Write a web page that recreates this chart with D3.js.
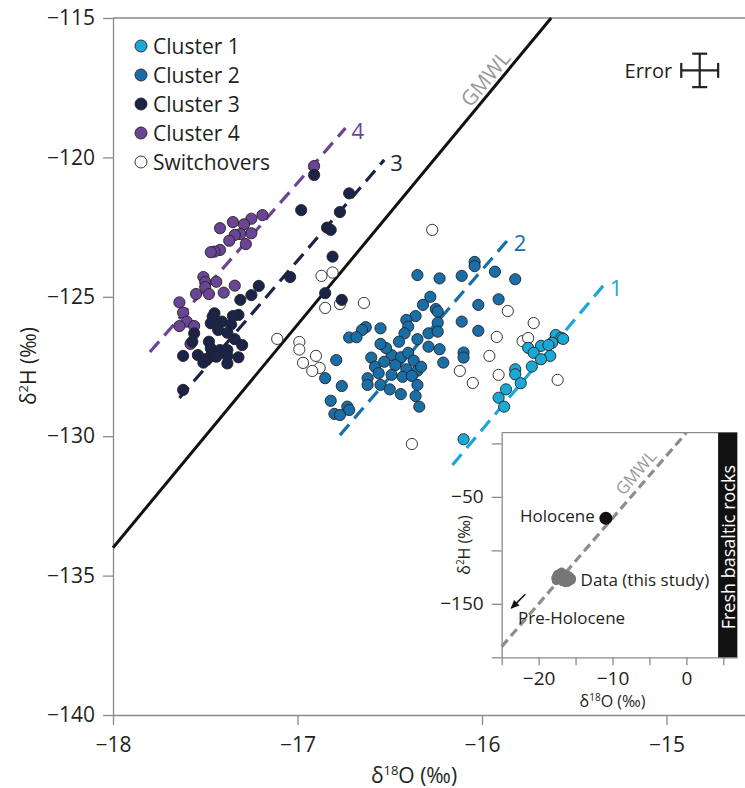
<!DOCTYPE html>
<html><head><meta charset="utf-8">
<script src="https://cdn.jsdelivr.net/npm/d3@7"></script>
<style>
body{margin:0;background:#fff}
text{font-family:"Open Sans","Noto Sans",sans-serif}
</style>
</head><body>
<svg id="chart" width="745" height="788"></svg>
<script>
// ---------- data (δ18O, δ2H) ----------
const cluster1 = [[-15.60,-126.37],[-15.57,-126.47],[-15.56,-126.51],[-15.62,-126.65],[-15.68,-126.76],[-15.64,-126.73],[-15.75,-126.83],[-15.72,-127.01],[-15.63,-127.12],[-15.68,-127.24],[-15.73,-127.50],[-15.82,-127.60],[-15.82,-127.78],[-15.79,-128.10],[-15.87,-128.32],[-15.91,-128.62],[-15.88,-128.94],[-16.10,-130.11]];
const cluster2 = [[-16.04,-123.75],[-16.04,-123.90],[-16.35,-124.22],[-16.23,-124.34],[-16.11,-124.25],[-15.93,-124.10],[-15.82,-124.37],[-16.28,-125.00],[-16.32,-125.29],[-16.25,-125.44],[-16.24,-125.53],[-16.02,-125.29],[-15.91,-125.09],[-16.36,-125.69],[-16.41,-125.83],[-16.40,-126.07],[-16.24,-125.93],[-16.11,-125.89],[-16.02,-126.22],[-16.63,-126.09],[-16.55,-126.13],[-16.65,-126.19],[-16.29,-126.31],[-16.24,-126.25],[-16.72,-126.46],[-16.68,-126.45],[-16.42,-126.31],[-16.45,-126.61],[-16.35,-126.52],[-16.29,-126.79],[-16.23,-126.88],[-16.10,-127.00],[-16.10,-127.18],[-16.21,-127.36],[-16.60,-127.18],[-16.49,-127.09],[-16.44,-127.17],[-16.40,-127.01],[-16.58,-127.51],[-16.53,-127.33],[-16.47,-127.45],[-16.37,-127.29],[-16.41,-127.60],[-16.35,-127.65],[-16.33,-127.51],[-16.79,-127.27],[-16.56,-127.74],[-16.49,-127.80],[-16.62,-127.92],[-16.43,-127.87],[-16.38,-127.84],[-16.55,-128.16],[-16.85,-127.92],[-16.62,-128.16],[-16.76,-128.20],[-16.50,-128.32],[-16.44,-128.49],[-16.35,-128.16],[-16.36,-128.56],[-16.82,-128.73],[-16.73,-128.94],[-16.72,-129.06],[-16.80,-129.20],[-16.77,-129.24],[-16.34,-128.94],[-16.52,-126.84],[-16.55,-126.69]];
const cluster3 = [[-16.91,-120.63],[-16.72,-121.29],[-16.98,-121.89],[-16.77,-121.96],[-16.84,-122.52],[-16.82,-122.60],[-16.81,-123.56],[-17.04,-124.29],[-17.21,-124.61],[-17.25,-124.94],[-17.31,-125.11],[-16.85,-124.87],[-16.76,-125.11],[-17.45,-125.59],[-17.46,-125.71],[-17.41,-125.89],[-17.36,-125.99],[-17.32,-125.65],[-17.35,-125.69],[-17.47,-125.95],[-17.43,-126.19],[-17.38,-126.29],[-17.56,-126.31],[-17.57,-126.61],[-17.48,-126.61],[-17.34,-126.52],[-17.30,-126.73],[-17.47,-126.85],[-17.38,-126.91],[-17.42,-126.91],[-17.47,-127.12],[-17.50,-127.24],[-17.62,-127.12],[-17.54,-127.09],[-17.44,-127.15],[-17.38,-127.12],[-17.32,-127.17],[-17.51,-127.36],[-17.38,-127.39],[-17.62,-128.34]];
const cluster4 = [[-16.91,-120.31],[-17.19,-122.07],[-17.25,-122.20],[-17.29,-122.40],[-17.35,-122.32],[-17.42,-122.54],[-17.25,-122.72],[-17.31,-122.75],[-17.34,-122.78],[-17.37,-122.99],[-17.28,-123.11],[-17.42,-123.32],[-17.45,-123.38],[-17.47,-123.40],[-17.51,-124.29],[-17.50,-124.47],[-17.50,-124.65],[-17.44,-124.46],[-17.34,-124.60],[-17.40,-124.85],[-17.48,-124.90],[-17.55,-124.90],[-17.64,-125.20],[-17.62,-125.57],[-17.60,-125.89],[-17.64,-126.05],[-17.56,-126.05],[-17.58,-126.69]];
const switchovers = [[-16.27,-122.60],[-16.87,-124.25],[-16.81,-124.13],[-16.85,-125.40],[-16.77,-125.26],[-16.64,-125.22],[-17.11,-126.51],[-16.99,-126.62],[-16.99,-126.89],[-16.90,-127.12],[-16.97,-127.37],[-16.88,-127.55],[-16.92,-127.66],[-15.86,-125.51],[-15.72,-125.94],[-15.92,-126.44],[-15.78,-126.59],[-15.75,-126.48],[-15.96,-127.12],[-16.12,-127.66],[-16.05,-128.09],[-15.91,-127.80],[-15.59,-127.98],[-16.38,-130.28]];

const legendLabels = ["Cluster 1","Cluster 2","Cluster 3","Cluster 4","Switchovers"];
const clusterColors = ["#1aa8d6","#1a6ea8","#1b2448","#6a4495","#ffffff"];

// trend lines: [x0,x1], [y0,y1]
const trendIds = ["1","2","3","4"];
const trendX = [[-16.16,-15.34],[-16.77,-15.86],[-17.64,-16.53],[-17.80,-16.74]];
const trendY = [[-131.03,-124.58],[-129.96,-122.96],[-128.63,-120.09],[-126.98,-118.95]];

const gmwlX = [-18, -15.625];
const gmwlY = [-134, -115];

const xTicks = [-18,-17,-16,-15];
const yTicks = [-140,-135,-130,-125,-120,-115];

const errorCenter = [-14.82,-116.88];
const errorHalf = [0.1, 0.6];

// inset
const insetXTicks = [-25,-20,-15,-10,-5,0,5];
const insetXLabels = [-20,-10,0];
const insetYTicks = [-200,-150,-100,-50,0];
const insetYLabels = [-150,-50];
const insetGmwlX = [-25, 0];
const insetGmwlY = [-190, 10];
const holocene = [-10.9, -70];
const basaltX = [4.3, 6.9];

// ---------- drawing ----------
const svg = d3.select("#chart");
const x = d3.scaleLinear().domain([-18,-15]).range([113,666.5]);
const y = d3.scaleLinear().domain([-140,-115]).range([715,18]);
const axisCol = "#8a8a8a";
const fmt = d => d3.format("d")(d);

// frame
const gAxes = svg.append("g");
gAxes.append("line").attr("x1",x(-18)).attr("x2",745).attr("y1",y(-115)).attr("y2",y(-115)).attr("stroke",axisCol).attr("stroke-width",1.3);

const yAxis = gAxes.append("g").attr("transform",`translate(${x(-18)},0)`)
  .call(d3.axisLeft(y).tickValues(yTicks).tickSize(10).tickSizeOuter(0).tickPadding(8).tickFormat(fmt));
const xAxis = gAxes.append("g").attr("transform",`translate(0,${y(-140)})`)
  .call(d3.axisBottom(x.copy().domain([-18,-14.5]).range([113,758.75])).tickValues(xTicks).tickSize(10).tickSizeOuter(0).tickPadding(12).tickFormat(fmt));
[yAxis,xAxis].forEach(a=>{
  a.select(".domain").attr("stroke",axisCol).attr("stroke-width",1.3);
  a.selectAll(".tick line").attr("stroke",axisCol).attr("stroke-width",1.3);
  a.selectAll(".tick text").attr("fill","#231f20").style("font-size","21px").style("font-family","'Open Sans',sans-serif");
});

// axis titles
const yt = svg.append("text").attr("transform","translate(36,366) rotate(-90)").attr("text-anchor","middle")
  .style("font-size","21px").attr("fill","#231f20");
yt.append("tspan").text("δ");
yt.append("tspan").text("2").attr("dy",-8).style("font-size","13px");
yt.append("tspan").text("H (‰)").attr("dy",8);
const xt = svg.append("text").attr("x",414).attr("y",783).attr("text-anchor","middle")
  .style("font-size","21px").attr("fill","#231f20");
xt.append("tspan").text("δ");
xt.append("tspan").text("18").attr("dy",-8).style("font-size","13px");
xt.append("tspan").text("O (‰)").attr("dy",8);

// GMWL
svg.append("line").attr("x1",x(gmwlX[0])).attr("y1",y(gmwlY[0])).attr("x2",x(gmwlX[1])).attr("y2",y(gmwlY[1]))
  .attr("stroke","#111").attr("stroke-width",3);
const gAng = Math.atan2(y(gmwlY[1])-y(gmwlY[0]), x(gmwlX[1])-x(gmwlX[0]))*180/Math.PI;
svg.append("text").attr("transform",`translate(${x(-15.95)},${y(-117.35)}) rotate(${gAng})`)
  .attr("text-anchor","middle").style("font-size","21px").attr("fill","#9a9a9a").text("GMWL");

// trend lines
const trendColors = [clusterColors[0],clusterColors[1],clusterColors[2],clusterColors[3]];
trendIds.forEach((id,i)=>{
  svg.append("line").attr("x1",x(trendX[i][0])).attr("y1",y(trendY[i][0]))
    .attr("x2",x(trendX[i][1])).attr("y2",y(trendY[i][1]))
    .attr("stroke",trendColors[i]).attr("stroke-width",3.2).attr("stroke-dasharray","14,8");
  svg.append("text").attr("x",x(trendX[i][1])+6).attr("y",y(trendY[i][1])+2)
    .attr("dominant-baseline","central").style("font-size","22px").attr("fill",trendColors[i]).text(id);
});

// points
const sets = [[switchovers,4],[cluster4,3],[cluster3,2],[cluster2,1],[cluster1,0]];
sets.forEach(([data,ci])=>{
  svg.append("g").selectAll("circle").data(data).join("circle")
    .attr("cx",d=>x(d[0])).attr("cy",d=>y(d[1])).attr("r",5.6)
    .attr("fill",clusterColors[ci]).attr("stroke","#222").attr("stroke-width",0.9);
});

// legend
const lg = svg.append("g");
legendLabels.forEach((t,i)=>{
  lg.append("circle").attr("cx",141).attr("cy",46+29*i).attr("r",6)
    .attr("fill",clusterColors[i]).attr("stroke","#222").attr("stroke-width",0.9);
  lg.append("text").attr("x",153).attr("y",46+29*i).attr("dominant-baseline","central")
    .style("font-size","21px").attr("fill","#231f20").text(t);
});

// error bar
const ex = x(errorCenter[0]), ey = y(errorCenter[1]);
const exL = x(errorCenter[0]-errorHalf[0]), exR = x(errorCenter[0]+errorHalf[0]);
const eyT = y(errorCenter[1]+errorHalf[1]), eyB = y(errorCenter[1]-errorHalf[1]);
const eg = svg.append("g").attr("stroke","#222").attr("stroke-width",2.2);
eg.append("line").attr("x1",exL).attr("x2",exR).attr("y1",ey).attr("y2",ey);
eg.append("line").attr("x1",exL).attr("x2",exL).attr("y1",ey-7.5).attr("y2",ey+7.5);
eg.append("line").attr("x1",exR).attr("x2",exR).attr("y1",ey-7.5).attr("y2",ey+7.5);
eg.append("line").attr("x1",ex).attr("x2",ex).attr("y1",eyT).attr("y2",eyB);
eg.append("line").attr("x1",ex-7.5).attr("x2",ex+7.5).attr("y1",eyT).attr("y2",eyT);
eg.append("line").attr("x1",ex-7.5).attr("x2",ex+7.5).attr("y1",eyB).attr("y2",eyB);
svg.append("text").attr("x",exL-9).attr("y",ey).attr("dominant-baseline","central").attr("text-anchor","end")
  .style("font-size","20px").attr("fill","#231f20").text("Error");

// ---------- inset ----------
const ix = d3.scaleLinear().domain([-25,5]).range([501.7,723.3]);
const iy = d3.scaleLinear().domain([-200,10]).range([657.3,432.7]);
const ig = svg.append("g");
ig.append("rect").attr("x",ix(-25)).attr("y",iy(10)).attr("width",ix(basaltX[1])-ix(-25)).attr("height",iy(-200)-iy(10)).attr("fill","#fff");
ig.append("line").attr("x1",ix(-25)).attr("x2",ix(basaltX[1])).attr("y1",iy(10)).attr("y2",iy(10)).attr("stroke",axisCol).attr("stroke-width",1.3);
const iyAxis = ig.append("g").attr("transform",`translate(${ix(-25)},0)`)
  .call(d3.axisLeft(iy.copy().domain([-200,10])).tickValues(insetYTicks).tickSize(10).tickSizeOuter(0).tickPadding(8)
    .tickFormat(d=>insetYLabels.includes(d)?fmt(d):""));
const ixAxis = ig.append("g").attr("transform",`translate(0,${iy(-200)})`)
  .call(d3.axisBottom(ix.copy().domain([-25,basaltX[1]]).range([ix(-25),ix(basaltX[1])])).tickValues(insetXTicks).tickSize(8).tickSizeOuter(0).tickPadding(6)
    .tickFormat(d=>insetXLabels.includes(d)?fmt(d):""));
[iyAxis,ixAxis].forEach(a=>{
  a.select(".domain").attr("stroke",axisCol).attr("stroke-width",1.3);
  a.selectAll(".tick line").attr("stroke",axisCol).attr("stroke-width",1.3);
  a.selectAll(".tick text").attr("fill","#231f20").style("font-size","19px").style("font-family","'Open Sans',sans-serif");
});
// inset titles
const iyt = ig.append("text").attr("transform",`translate(470,${iy(-95)}) rotate(-90)`).attr("text-anchor","middle")
  .style("font-size","16px").attr("fill","#231f20");
iyt.append("tspan").text("δ");
iyt.append("tspan").text("2").attr("dy",-6).style("font-size","10px");
iyt.append("tspan").text("H (‰)").attr("dy",6);
const ixt = ig.append("text").attr("x",ix(-10)).attr("y",707).attr("text-anchor","middle")
  .style("font-size","16px").attr("fill","#231f20");
ixt.append("tspan").text("δ");
ixt.append("tspan").text("18").attr("dy",-6).style("font-size","10px");
ixt.append("tspan").text("O (‰)").attr("dy",6);

// basalt bar
ig.append("rect").attr("x",ix(basaltX[0])).attr("y",iy(10)).attr("width",ix(basaltX[1])-ix(basaltX[0])).attr("height",iy(-200)-iy(10)).attr("fill","#111");
ig.append("text").attr("transform",`translate(${(ix(basaltX[0])+ix(basaltX[1]))/2},${iy(-97)}) rotate(-90)`)
  .attr("text-anchor","middle").attr("dominant-baseline","central").style("font-size","18px").attr("fill","#fff").text("Fresh basaltic rocks");

// inset GMWL
ig.append("line").attr("x1",ix(insetGmwlX[0])).attr("y1",iy(insetGmwlY[0])).attr("x2",ix(insetGmwlX[1])).attr("y2",iy(insetGmwlY[1]))
  .attr("stroke","#8c8c8c").attr("stroke-width",3.2).attr("stroke-dasharray","9,5");
const iAng = Math.atan2(iy(insetGmwlY[1])-iy(insetGmwlY[0]), ix(insetGmwlX[1])-ix(insetGmwlX[0]))*180/Math.PI;
ig.append("text").attr("transform",`translate(${ix(-6.2)},${iy(-31)}) rotate(${iAng})`)
  .attr("text-anchor","middle").style("font-size","17px").attr("fill","#9a9a9a").text("GMWL");

// study data blob
const allData = cluster1.concat(cluster2,cluster3,cluster4,switchovers);
ig.append("g").selectAll("circle").data(allData).join("circle")
  .attr("cx",d=>ix(d[0])).attr("cy",d=>iy(d[1])).attr("r",4.5).attr("fill","#777");
ig.append("text").attr("x",ix(-15.4)+8).attr("y",iy(-127)).attr("dominant-baseline","central")
  .style("font-size","17px").attr("fill","#231f20").text("Data (this study)");

// holocene
ig.append("circle").attr("cx",ix(holocene[0])).attr("cy",iy(holocene[1])).attr("r",6.5).attr("fill","#111");
ig.append("text").attr("x",ix(holocene[0])-11).attr("y",iy(holocene[1])-3).attr("dominant-baseline","central").attr("text-anchor","end")
  .style("font-size","17px").attr("fill","#231f20").text("Holocene");

// pre-holocene arrow
svg.append("defs").append("marker").attr("id","ah").attr("viewBox","0 0 10 10").attr("refX",8).attr("refY",5)
  .attr("markerWidth",6).attr("markerHeight",6).attr("orient","auto")
  .append("path").attr("d","M0,1 L9,5 L0,9 z").attr("fill","#111");
ig.append("line").attr("x1",ix(-21.8)).attr("y1",iy(-141)).attr("x2",ix(-23.7)).attr("y2",iy(-154))
  .attr("stroke","#111").attr("stroke-width",1.6).attr("marker-end","url(#ah)");
ig.append("text").attr("x",518).attr("y",iy(-163)).attr("dominant-baseline","central")
  .style("font-size","17px").attr("fill","#231f20").text("Pre-Holocene");
</script>
</body></html>
